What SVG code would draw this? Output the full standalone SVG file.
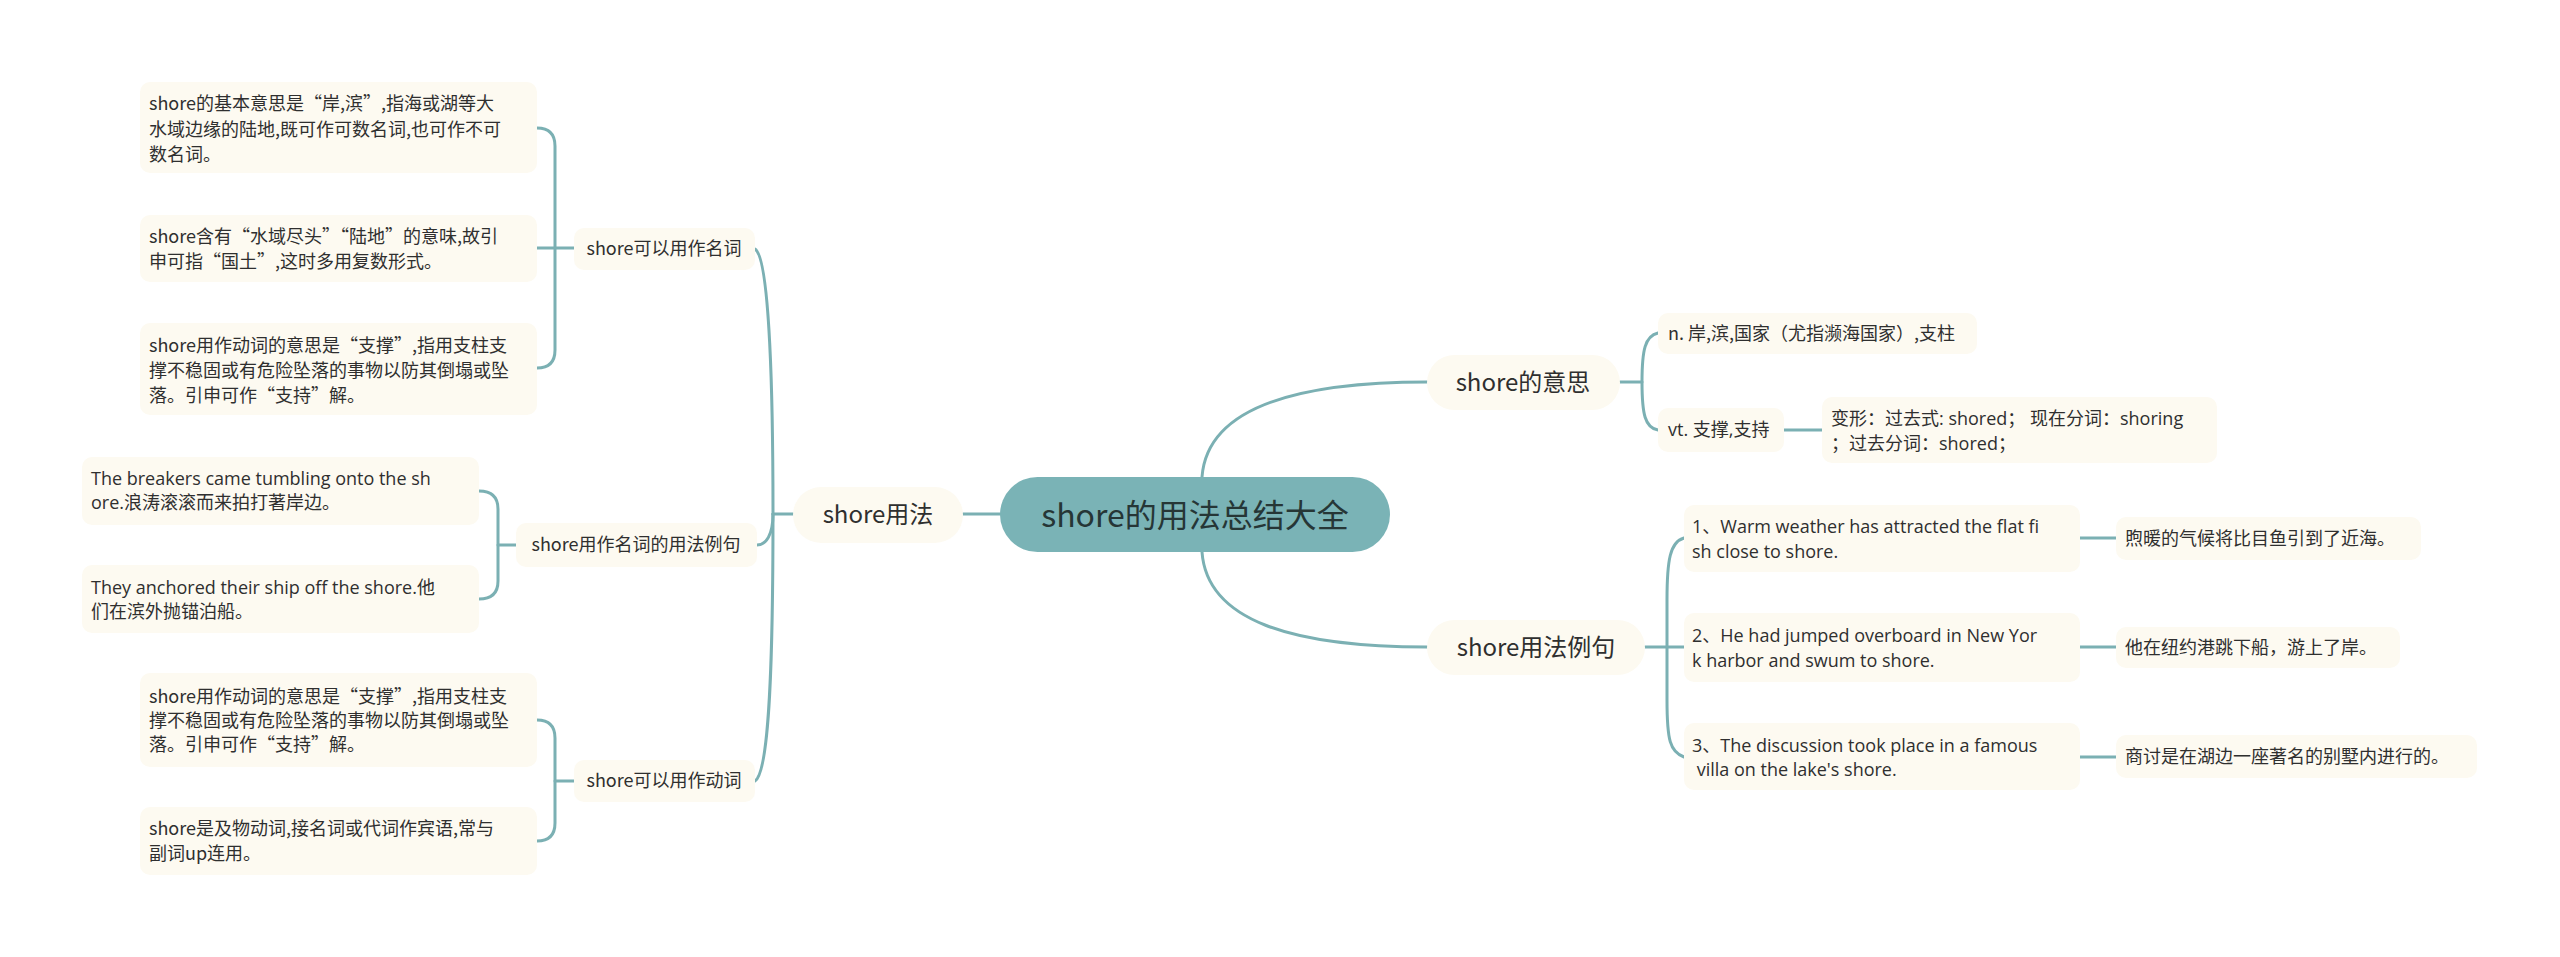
<svg xmlns="http://www.w3.org/2000/svg" width="2560" height="957" viewBox="0 0 2560 957">
<style>
.bg{fill:#ffffff}
.box{fill:#fdfaf1}
.root{fill:#7ab3b6}
.con{fill:none;stroke:#7bb0b3;stroke-width:3;stroke-linecap:round}
text{font-family:"Noto Sans CJK SC","Noto Sans",sans-serif;fill:#2f2f2f}
text.lat{font-family:"Open Sans","Noto Sans CJK SC",sans-serif}
.t18{font-size:18px}
.t24{font-size:24px}
.t32{font-size:32px;fill:#263636}
.mid{text-anchor:middle}
</style>
<rect class="bg" x="0" y="0" width="2560" height="957"/>
<g id="connectors">
<path class="con" d="M963 514 H1000"/>
<path class="con" d="M1202 477 C1207 410 1290 382 1427 382"/>
<path class="con" d="M1202 552 C1207 620 1290 647 1427 647"/>
<path class="con" d="M793 514 H773"/>
<path class="con" d="M755 249 C770 258 773 400 773 514"/>
<path class="con" d="M773 514 C773 650 770 772 755 781"/>
<path class="con" d="M773 514 C773 535 766 545 757 545"/>
<path class="con" d="M537 128 Q555 128 555 146 V350 Q555 368 537 368"/>
<path class="con" d="M537 248 H574"/>
<path class="con" d="M479 491 Q498 491 498 509 V581 Q498 599 479 599"/>
<path class="con" d="M498 545 H516"/>
<path class="con" d="M537 720 Q555 720 555 738 V823 Q555 841 537 841"/>
<path class="con" d="M555 781 H574"/>
<path class="con" d="M1620 382 H1642"/>
<path class="con" d="M1658 333 C1645 336 1642 350 1642 382 C1642 414 1645 428 1658 430"/>
<path class="con" d="M1784 430 H1822"/>
<path class="con" d="M1645 647 H1684"/>
<path class="con" d="M1684 538 C1670 542 1667 560 1667 600 V700 C1667 740 1670 752 1684 757"/>
<path class="con" d="M2080 538 H2116"/>
<path class="con" d="M2080 647 H2116"/>
<path class="con" d="M2080 757 H2116"/>
</g>
<g id="root">
<rect class="root" x="1000" y="477" width="390" height="75" rx="37.5"/>
<text class="t32 mid" x="1195" y="527">shore的用法总结大全</text>
</g>
<g id="n-usage">
<rect class="box" x="793" y="487" width="170" height="56" rx="28"/>
<text class="t24 mid" x="878" y="523">shore用法</text>
</g>
<g id="n-meaning">
<rect class="box" x="1427" y="355" width="193" height="55" rx="27.5"/>
<text class="t24 mid" x="1523" y="391">shore的意思</text>
</g>
<g id="n-examples">
<rect class="box" x="1427" y="620" width="218" height="55" rx="27.5"/>
<text class="t24 mid" x="1536" y="656">shore用法例句</text>
</g>
<g id="n-noun">
<rect class="box" x="574" y="228" width="181" height="42" rx="10"/>
<text class="t18 mid" x="664" y="255">shore可以用作名词</text>
</g>
<g id="n-noun-ex">
<rect class="box" x="516" y="523" width="241" height="44" rx="10"/>
<text class="t18 mid" x="636" y="551">shore用作名词的用法例句</text>
</g>
<g id="n-verb">
<rect class="box" x="574" y="760" width="181" height="42" rx="10"/>
<text class="t18 mid" x="664" y="787">shore可以用作动词</text>
</g>
<g id="l1">
<rect class="box" x="140" y="82" width="397" height="91" rx="10"/>
<text class="t18" x="149" y="110">shore的基本意思是“岸,滨”,指海或湖等大</text>
<text class="t18" x="149" y="136">水域边缘的陆地,既可作可数名词,也可作不可</text>
<text class="t18" x="149" y="161">数名词。</text>
</g>
<g id="l2">
<rect class="box" x="140" y="215" width="397" height="67" rx="10"/>
<text class="t18" x="149" y="243">shore含有“水域尽头”“陆地”的意味,故引</text>
<text class="t18" x="149" y="268">申可指“国土”,这时多用复数形式。</text>
</g>
<g id="l3">
<rect class="box" x="140" y="323" width="397" height="92" rx="10"/>
<text class="t18" x="149" y="352">shore用作动词的意思是“支撑”,指用支柱支</text>
<text class="t18" x="149" y="377">撑不稳固或有危险坠落的事物以防其倒塌或坠</text>
<text class="t18" x="149" y="402">落。引申可作“支持”解。</text>
</g>
<g id="e1">
<rect class="box" x="82" y="457" width="397" height="68" rx="10"/>
<text class="t18 lat" x="91" y="485">The breakers came tumbling onto the sh</text>
<text class="t18 lat" x="91" y="509">ore.浪涛滚滚而来拍打著岸边。</text>
</g>
<g id="e2">
<rect class="box" x="82" y="565" width="397" height="68" rx="10"/>
<text class="t18 lat" x="91" y="594">They anchored their ship off the shore.他</text>
<text class="t18" x="91" y="618">们在滨外抛锚泊船。</text>
</g>
<g id="v1">
<rect class="box" x="140" y="673" width="397" height="94" rx="10"/>
<text class="t18" x="149" y="703">shore用作动词的意思是“支撑”,指用支柱支</text>
<text class="t18" x="149" y="727">撑不稳固或有危险坠落的事物以防其倒塌或坠</text>
<text class="t18" x="149" y="751">落。引申可作“支持”解。</text>
</g>
<g id="v2">
<rect class="box" x="140" y="807" width="397" height="68" rx="10"/>
<text class="t18" x="149" y="835">shore是及物动词,接名词或代词作宾语,常与</text>
<text class="t18" x="149" y="860">副词up连用。</text>
</g>
<g id="m1">
<rect class="box" x="1658" y="313" width="319" height="41" rx="10"/>
<text class="t18" x="1668" y="340">n. 岸,滨,国家（尤指濒海国家）,支柱</text>
</g>
<g id="m2">
<rect class="box" x="1658" y="408" width="126" height="44" rx="10"/>
<text class="t18 lat" x="1668" y="436">vt. 支撑,支持</text>
</g>
<g id="m3">
<rect class="box" x="1822" y="397" width="395" height="66" rx="10"/>
<text class="t18 lat" x="1831" y="425">变形：过去式: shored； 现在分词：shoring</text>
<text class="t18 lat" x="1831" y="450">；过去分词：shored；</text>
</g>
<g id="r1">
<rect class="box" x="1684" y="505" width="396" height="67" rx="10"/>
<text class="t18 lat" x="1692" y="533">1、Warm weather has attracted the flat fi</text>
<text class="t18 lat" x="1692" y="558">sh close to shore.</text>
</g>
<g id="r2">
<rect class="box" x="1684" y="613" width="396" height="69" rx="10"/>
<text class="t18 lat" x="1692" y="642">2、He had jumped overboard in New Yor</text>
<text class="t18 lat" x="1692" y="667">k harbor and swum to shore.</text>
</g>
<g id="r3">
<rect class="box" x="1684" y="723" width="396" height="67" rx="10"/>
<text class="t18 lat" x="1692" y="752">3、The discussion took place in a famous</text>
<text class="t18 lat" x="1692" y="776" xml:space="preserve"> villa on the lake's shore.</text>
</g>
<g id="c1">
<rect class="box" x="2116" y="517" width="305" height="43" rx="10"/>
<text class="t18" x="2125" y="545">煦暖的气候将比目鱼引到了近海。</text>
</g>
<g id="c2">
<rect class="box" x="2116" y="627" width="284" height="41" rx="10"/>
<text class="t18" x="2125" y="654">他在纽约港跳下船，游上了岸。</text>
</g>
<g id="c3">
<rect class="box" x="2116" y="735" width="361" height="43" rx="10"/>
<text class="t18" x="2125" y="763">商讨是在湖边一座著名的别墅内进行的。</text>
</g>
</svg>
